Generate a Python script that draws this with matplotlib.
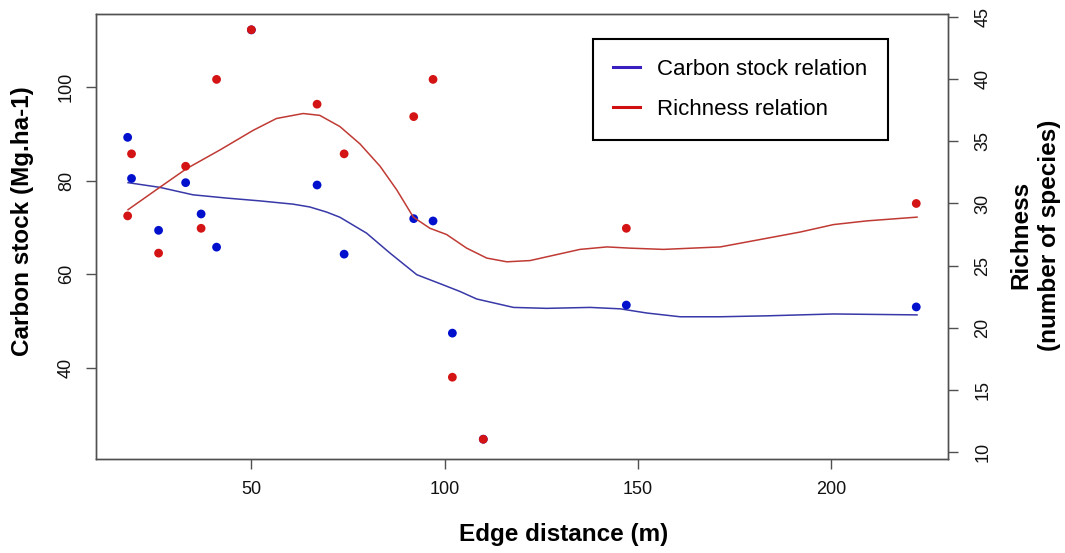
#!/usr/bin/env python3

import matplotlib
matplotlib.use("Agg")
import matplotlib.pyplot as plt
from matplotlib.lines import Line2D


# Field plots: distance to the forest edge (m)
EDGE_DIST = [18, 19, 26, 33, 37, 41, 50, 67, 74, 92, 97, 102, 110, 147, 222]

# Observed values per plot
CARBON = [89.3, 80.5, 69.4, 79.6, 72.9, 65.8, 112.3, 79.1, 64.3, 71.9, 71.4, 47.4, 24.7, 53.4, 53.0]
RICHNESS = [29, 34, 26, 33, 28, 40, 44, 38, 34, 37, 40, 16, 11, 28, 30]

# Fitted smooth relations
CARBON_FIT_X = [18.1, 26.3, 34.9, 43.6, 52.2, 60.8, 65.1, 69.5, 72.9, 79.8, 85.9, 92.8,
	99.7, 104.0, 108.3, 117.8, 126.4, 137.6, 145.4, 152.3, 160.9, 171.3, 183.4, 200.6, 222.2]
CARBON_FIT_Y = [79.6, 78.6, 77.0, 76.3, 75.7, 75.0, 74.4, 73.3, 72.2, 68.8, 64.5, 59.9,
	57.7, 56.3, 54.7, 52.9, 52.7, 52.9, 52.6, 51.7, 50.9, 50.9, 51.1, 51.5, 51.3]

RICH_FIT_X = [18.1, 26.3, 33.2, 41.8, 50.5, 56.5, 63.4, 67.7, 72.9, 78.1, 83.3, 87.6, 91.9,
	96.2, 100.5, 105.7, 110.9, 116.1, 122.1, 126.4, 135.0, 142.0, 148.0, 156.6, 171.3,
	183.4, 192.0, 200.6, 209.3, 222.2]
RICH_FIT_Y = [29.5, 31.3, 32.8, 34.3, 35.9, 36.85, 37.25, 37.1, 36.2, 34.8, 33.0, 31.1, 28.9,
	28.0, 27.5, 26.4, 25.6, 25.3, 25.4, 25.7, 26.3, 26.5, 26.4, 26.3, 26.5,
	27.2, 27.7, 28.3, 28.6, 28.9]

X_TICKS = [50, 100, 150, 200]
CARBON_TICKS = [40, 60, 80, 100]
RICH_TICKS = [10, 15, 20, 25, 30, 35, 40, 45]

FRAME = "#505050"
PT_BLUE = "#0010CC"
PT_RED = "#D41414"
LN_BLUE = "#3838A8"
LN_RED = "#C03A34"


def _style_axis(ax) -> None:
	for side in ax.spines.values():
		side.set_color(FRAME)
		side.set_linewidth(1.0)
	ax.tick_params(direction="out", length=7, width=1.0, color=FRAME,
		labelsize=13, labelcolor="#111111")


def main() -> None:
	plt.rcParams["font.family"] = ["Liberation Sans", "DejaVu Sans"]

	fig = plt.figure(figsize=(10.65, 5.53), dpi=100)
	ax = fig.add_axes([0.0901, 0.170, 0.8, 0.8047])
	ax2 = ax.twinx()

	ax.set_xlim(9.8, 230.2)
	ax.set_ylim(20.46, 115.7)
	ax2.set_ylim(9.41, 45.27)

	ax.scatter(EDGE_DIST, CARBON, s=40, color=PT_BLUE, edgecolors="none", zorder=3)
	ax.plot(CARBON_FIT_X, CARBON_FIT_Y, color=LN_BLUE, lw=1.1, zorder=2)

	ax2.scatter(EDGE_DIST, RICHNESS, s=40, color=PT_RED, edgecolors="none", zorder=3)
	ax2.plot(RICH_FIT_X, RICH_FIT_Y, color=LN_RED, lw=1.1, zorder=2)

	ax.set_xticks(X_TICKS)
	ax.set_yticks(CARBON_TICKS)
	ax2.set_yticks(RICH_TICKS)
	_style_axis(ax)
	_style_axis(ax2)
	ax.tick_params(axis="x", pad=9)
	ax.tick_params(axis="y", labelrotation=90, pad=8)
	ax2.tick_params(axis="y", labelrotation=90, pad=12)
	for lab in ax.get_yticklabels() + ax2.get_yticklabels():
		lab.set_verticalalignment("center")

	fig.text(0.529, 0.034, "Edge distance (m)", ha="center", va="center",
		fontsize=17.5, fontweight="bold")
	fig.text(0.021, 0.600, "Carbon stock (Mg.ha-1)", ha="center", va="center",
		rotation=90, fontsize=17.5, fontweight="bold")
	fig.text(0.972, 0.575, "Richness\n(number of species)", ha="center", va="center",
		rotation=90, fontsize=17.5, fontweight="bold", linespacing=1.35)

	handles = [
		Line2D([], [], color="#3A1FC0", lw=2.2),
		Line2D([], [], color="#D01010", lw=2.2),
	]
	leg = ax2.legend(handles, ["Carbon stock relation", "Richness relation"],
		loc="upper left", bbox_to_anchor=(593 / 1065, (553 - 39) / 553),
		bbox_transform=fig.transFigure, fontsize=16, frameon=True, fancybox=False,
		handlelength=1.2, handletextpad=0.8, borderpad=0.9, labelspacing=0.85,
		borderaxespad=0.0)
	frame = leg.get_frame()
	frame.set_edgecolor("black")
	frame.set_linewidth(1.5)
	frame.set_facecolor("white")
	frame.set_alpha(1.0)

	fig.savefig("out.png", dpi=100)
	plt.close("all")


if __name__ == "__main__":
	main()
